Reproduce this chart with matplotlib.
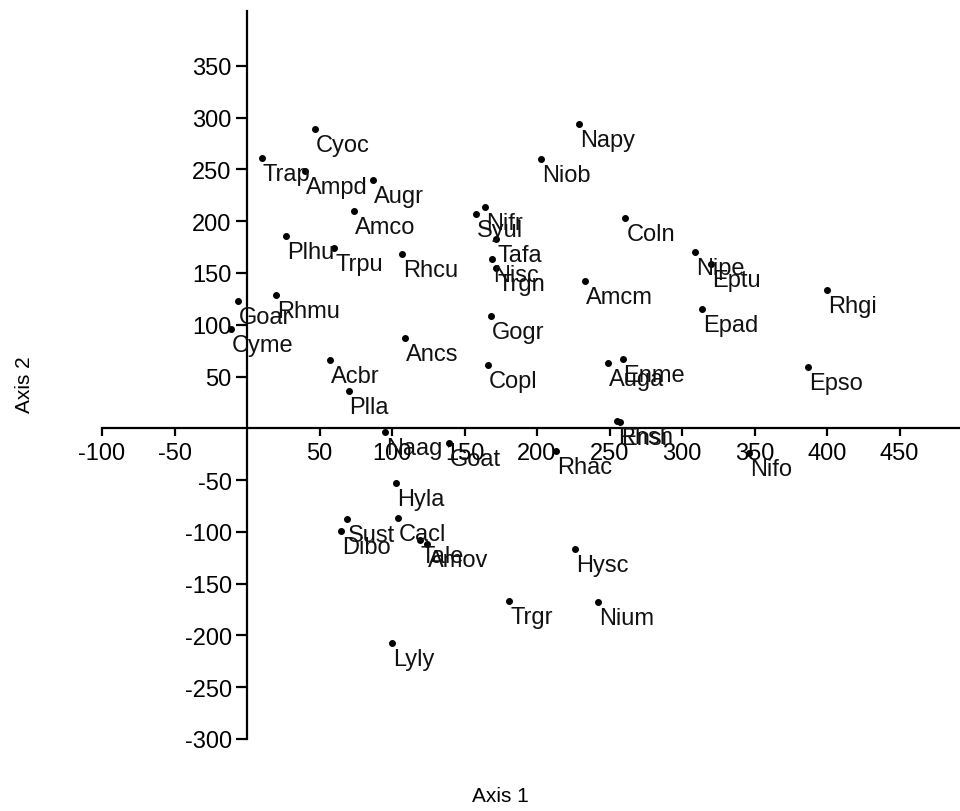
import matplotlib
matplotlib.use("Agg")
import matplotlib.pyplot as plt

plt.rcParams['font.family'] = ['Liberation Sans', 'DejaVu Sans']
plt.rcParams['axes.unicode_minus'] = False

names = ["Cyoc", "Trap", "Ampd", "Augr", "Amco", "Plhu", "Trpu", "Rhcu",
         "Rhmu", "Goar", "Cyme", "Acbr", "Plla", "Ancs", "Naag", "Goat",
         "Hyla", "Sust", "Dibo", "Cacl", "Tale", "Amov", "Lyly", "Napy",
         "Niob", "Nifr", "Syul", "Tafa", "Nisc", "Trgn", "Coln", "Amcm",
         "Nipe", "Eptu", "Rhgi", "Epad", "Epso", "Gogr", "Copl", "Auga",
         "Enme", "Rhsh", "Ensi", "Rhac", "Nifo", "Hysc", "Trgr", "Nium"]
axis1 = [47, 10, 40, 87, 74, 27, 60, 107,
         20, -6, -11, 57, 70, 109, 95, 139,
         103, 69, 65, 104, 119, 124, 100, 229,
         203, 164, 158, 172, 169, 172, 261, 233,
         309, 320, 400, 314, 387, 168, 166, 249,
         259, 255, 257, 213, 346, 226, 181, 242]
axis2 = [289, 261, 248, 240, 210, 186, 174, 168,
         129, 123, 96, 66, 36, 87, -4, -14,
         -53, -88, -99, -87, -108, -112, -207, 294,
         260, 214, 207, 183, 163, 155, 203, 142,
         170, 159, 134, 115, 59, 108, 61, 63,
         67, 7, 6, -22, -24, -117, -167, -168]

xticks = [-100, -50, 50, 100, 150, 200, 250, 300, 350, 400, 450]
yticks = [-300, -250, -200, -150, -100, -50, 50, 100, 150, 200, 250, 300, 350]

fig = plt.figure(figsize=(9.6, 8.12), dpi=100)
ax = fig.add_axes([102 / 960, 1 - 740 / 812, 1 - 102 / 960, (740 - 12) / 812])
ax.set_xlim(-100, 491.7)
ax.set_ylim(-300, 402.9)

ax.plot(axis1, axis2, 'o', color='black', markersize=4, linestyle='none')
for n, x, y in zip(names, axis1, axis2):
    ax.annotate(n, (x, y), xytext=(1, -22), textcoords='offset pixels',
                ha='left', va='baseline', fontsize=17, color='#111111')

for s in ['top', 'right']:
    ax.spines[s].set_visible(False)
ax.spines['left'].set_position(('data', 0))
ax.spines['bottom'].set_position(('data', 0))
ax.spines['left'].set_linewidth(1.6)
ax.spines['bottom'].set_linewidth(1.6)

ax.set_xticks(xticks)
ax.set_yticks(yticks)
ax.tick_params(axis='x', direction='out', length=6, width=1.6,
               labelsize=17, pad=4)
ax.tick_params(axis='y', direction='out', length=8, width=1.6,
               labelsize=17, pad=3)

fig.text(500 / 960, 1 - 797 / 812, "Axis 1", ha='center', va='center',
         fontsize=15)
fig.text(25 / 960, 1 - 385 / 812, "Axis 2", ha='center', va='center',
         rotation=90, fontsize=15)

fig.savefig("out.png", dpi=100)
